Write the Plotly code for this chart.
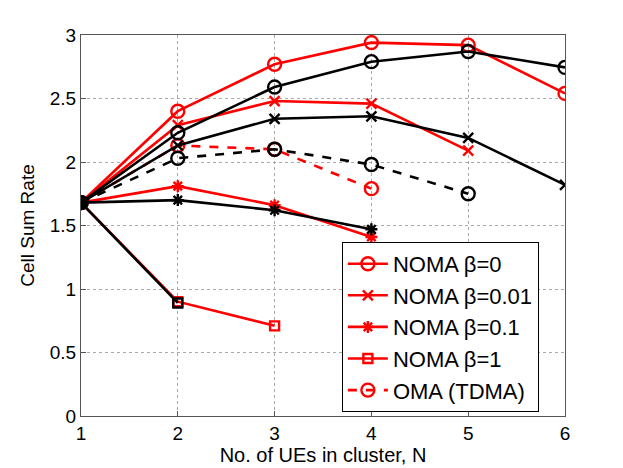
import plotly.graph_objects as go

N = [1, 2, 3, 4, 5, 6]

# red series (legend shown)
red_b0 = [1.68, 2.40, 2.77, 2.94, 2.92, 2.54]
red_b001 = [1.68, 2.29, 2.48, 2.46, 2.09]
red_b01 = [1.68, 1.81, 1.66, 1.41]
red_b1 = [1.68, 0.90, 0.71]
red_oma = [1.68, 2.13, 2.10, 1.79]

# black series
blk_b0 = [1.68, 2.23, 2.59, 2.79, 2.87, 2.745]
blk_b001 = [1.68, 2.13, 2.34, 2.36, 2.19, 1.82]
blk_b01 = [1.68, 1.70, 1.62, 1.47]
blk_b1 = [1.68, 0.89]
blk_oma = [1.68, 2.03, 2.10, 1.98, 1.75]

labels = ["NOMA β=0", "NOMA β=0.01", "NOMA β=0.1", "NOMA β=1", "OMA (TDMA)"]
symbols = ["circle-open", "x-thin-open", "asterisk-open", "square-open", "circle-open"]
sizes = [13, 10, 10, 9, 13]
dashes = ["solid", "solid", "solid", "solid", "dash"]

fig = go.Figure()

def add(ys, color, i, show):
    fig.add_trace(go.Scatter(
        x=N[:len(ys)], y=ys, mode="lines+markers",
        name=labels[i], showlegend=show, legendgroup="g%d%s" % (i, color),
        line=dict(color=color, width=2.6, dash=dashes[i]),
        marker=dict(symbol=symbols[i], size=sizes[i], color=color,
                    line=dict(color=color, width=2.4)),
    ))

for i, ys in enumerate([red_b0, red_b001, red_b01, red_b1, red_oma]):
    add(ys, "#ff0000", i, True)
for i, ys in enumerate([blk_b0, blk_b001, blk_b01, blk_b1, blk_oma]):
    add(ys, "#000000", i, False)

axis_common = dict(
    showline=True, mirror=True, linecolor="#555555", linewidth=1,
    ticks="inside", ticklen=5, tickcolor="#555555",
    showgrid=True, gridcolor="#aaaaaa", griddash="dot", gridwidth=1,
    zeroline=False, tickfont=dict(size=19, color="#000000"),
)

fig.update_layout(
    width=615, height=460,
    margin=dict(l=73, r=58, t=27, b=52, autoexpand=False),
    paper_bgcolor="white", plot_bgcolor="white",
    font=dict(family="Liberation Sans, Arial, sans-serif", color="#000000"),
    xaxis=dict(range=[1, 6], tickvals=[1, 2, 3, 4, 5, 6],
               title=dict(text="No. of UEs in cluster, N", font=dict(size=20), standoff=0),
               automargin=False, **axis_common),
    yaxis=dict(range=[0, 3], tickvals=[0, 0.5, 1, 1.5, 2, 2.5, 3],
               ticktext=["0", "0.5", "1", "1.5", "2", "2.5", "3"],
               title=dict(text="Cell Sum Rate", font=dict(size=19), standoff=10),
               automargin=False, **axis_common),
    legend=dict(x=0.539, y=0.457, xanchor="left", yanchor="top",
                bgcolor="white", bordercolor="#000000", borderwidth=1,
                font=dict(size=22), tracegroupgap=0, itemwidth=40),
)

fig.write_html("out.html")
